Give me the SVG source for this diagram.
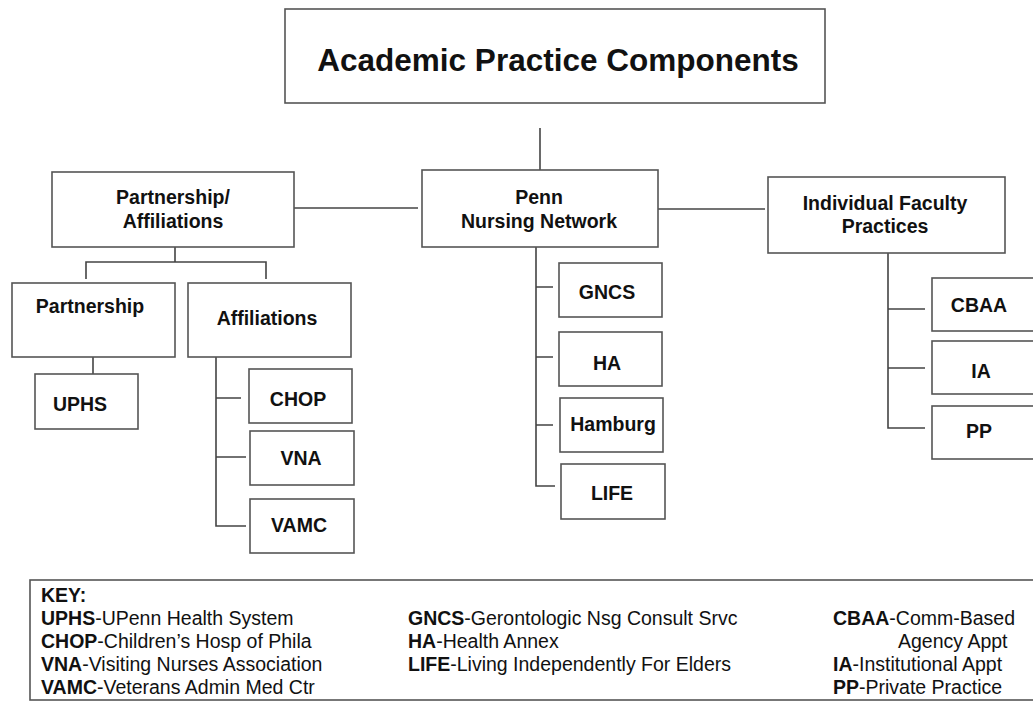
<svg xmlns="http://www.w3.org/2000/svg" width="1033" height="702" viewBox="0 0 1033 702">
<style>
.box{fill:#fff;stroke:#555;stroke-width:1.6}
.ln{fill:none;stroke:#444;stroke-width:1.6}
.lbl{font-family:"Liberation Sans",Arial,sans-serif;font-weight:bold;font-size:19.5px;fill:#111;text-anchor:middle}
.ttl{font-family:"Liberation Sans",Arial,sans-serif;font-weight:bold;font-size:31.5px;fill:#111;text-anchor:middle}
.key{font-family:"Liberation Sans",Arial,sans-serif;font-size:19.5px;fill:#111}
.key tspan.b{font-weight:bold}
</style>
<rect width="1033" height="702" fill="#fff"/>
<g id="connectors">
<path class="ln" d="M540 128V170"/>
<path class="ln" d="M294 208H418"/>
<path class="ln" d="M658 209H765"/>
<path class="ln" d="M175 247V262M86 279V262H266V279"/>
<path class="ln" d="M93 357V374"/>
<path class="ln" d="M216 357V526H246M216 398H241M216 457H246"/>
<path class="ln" d="M536 247V486H555M536 287H553M536 357H553M536 425H553"/>
<path class="ln" d="M888 253V428H925M888 309H925M888 368H925"/>
</g>
<g id="title"><rect class="box" x="285" y="9" width="540" height="94"/><text class="ttl" x="558" y="71">Academic Practice Components</text></g>
<g id="partnership-affiliations"><rect class="box" x="52" y="172" width="242" height="75"/><text class="lbl" x="173" y="204">Partnership/</text><text class="lbl" x="173" y="228">Affiliations</text></g>
<g id="penn-nursing-network"><rect class="box" x="422" y="170" width="236" height="77"/><text class="lbl" x="539" y="204">Penn</text><text class="lbl" x="539" y="228">Nursing Network</text></g>
<g id="individual-faculty-practices"><rect class="box" x="768" y="177" width="237" height="76"/><text class="lbl" x="885" y="210">Individual Faculty</text><text class="lbl" x="885" y="233">Practices</text></g>
<g id="partnership"><rect class="box" x="12" y="283" width="163" height="74"/><text class="lbl" x="90" y="313">Partnership</text></g>
<g id="affiliations"><rect class="box" x="188" y="283" width="163" height="74"/><text class="lbl" x="267" y="325">Affiliations</text></g>
<g id="uphs"><rect class="box" x="35" y="374" width="103" height="55"/><text class="lbl" x="80" y="411">UPHS</text></g>
<g id="chop"><rect class="box" x="249" y="369" width="103" height="54"/><text class="lbl" x="298" y="406">CHOP</text></g>
<g id="vna"><rect class="box" x="250" y="431" width="104" height="54"/><text class="lbl" x="301" y="465">VNA</text></g>
<g id="vamc"><rect class="box" x="250" y="499" width="104" height="54"/><text class="lbl" x="299" y="532">VAMC</text></g>
<g id="gncs"><rect class="box" x="559" y="263" width="103" height="54"/><text class="lbl" x="607" y="299">GNCS</text></g>
<g id="ha"><rect class="box" x="559" y="332" width="103" height="54"/><text class="lbl" x="607" y="370">HA</text></g>
<g id="hamburg"><rect class="box" x="560" y="398" width="103" height="54"/><text class="lbl" x="613" y="431">Hamburg</text></g>
<g id="life"><rect class="box" x="561" y="464" width="104" height="55"/><text class="lbl" x="612" y="500">LIFE</text></g>
<g id="cbaa"><rect class="box" x="932" y="278" width="120" height="53"/><text class="lbl" x="979" y="312">CBAA</text></g>
<g id="ia"><rect class="box" x="932" y="341" width="120" height="53"/><text class="lbl" x="981" y="378">IA</text></g>
<g id="pp"><rect class="box" x="932" y="406" width="120" height="53"/><text class="lbl" x="979" y="438">PP</text></g>
<g id="key">
<rect class="box" x="30" y="580" width="1020" height="120"/>
<text class="key" x="41" y="602"><tspan class="b">KEY:</tspan></text>
<text class="key" x="41" y="625"><tspan class="b">UPHS</tspan>-UPenn Health System</text>
<text class="key" x="41" y="648"><tspan class="b">CHOP</tspan>-Children’s Hosp of Phila</text>
<text class="key" x="41" y="671"><tspan class="b">VNA</tspan>-Visiting Nurses Association</text>
<text class="key" x="41" y="694"><tspan class="b">VAMC</tspan>-Veterans Admin Med Ctr</text>
<text class="key" x="408" y="625"><tspan class="b">GNCS</tspan>-Gerontologic Nsg Consult Srvc</text>
<text class="key" x="408" y="648"><tspan class="b">HA</tspan>-Health Annex</text>
<text class="key" x="408" y="671"><tspan class="b">LIFE</tspan>-Living Independently For Elders</text>
<text class="key" x="833" y="625"><tspan class="b">CBAA</tspan>-Comm-Based</text>
<text class="key" x="898" y="648">Agency Appt</text>
<text class="key" x="833" y="671"><tspan class="b">IA</tspan>-Institutional Appt</text>
<text class="key" x="833" y="694"><tspan class="b">PP</tspan>-Private Practice</text>
</g>
</svg>
